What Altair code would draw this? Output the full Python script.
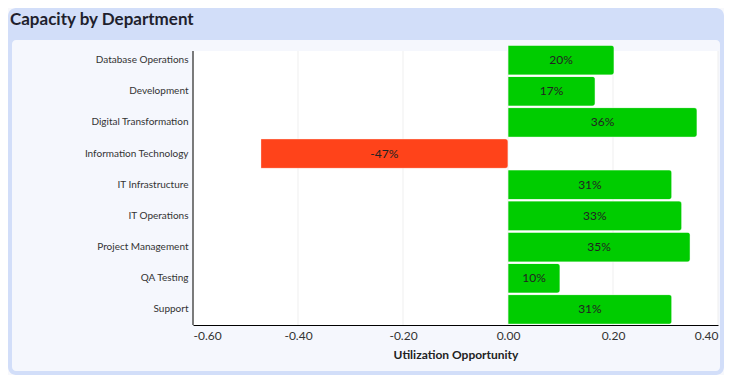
import altair as alt
import pandas as pd

departments = ["Database Operations", "Development", "Digital Transformation",
               "Information Technology", "IT Infrastructure", "IT Operations",
               "Project Management", "QA Testing", "Support"]
utilization = [0.202, 0.166, 0.360, -0.471, 0.312, 0.331, 0.347, 0.099, 0.312]
tick_values = [-0.6, -0.4, -0.2, 0.0, 0.2, 0.4]
chart_title = ["Capacity by Department"]

FONT = "Lato"
W, H = 525, 274
GREEN = "#00cc00"
RED = "#ff431a"

df = pd.DataFrame({"dept": departments, "v": utilization})
ticks_df = pd.DataFrame({"t": tick_values})
one = pd.DataFrame({"k": [0]})
title_df = pd.DataFrame({"title": chart_title})

x_scale = alt.Scale(domain=[-0.6, 0.4], nice=False, zero=False)
y_scale = alt.Scale(domain=departments, range=[-6.5, H], paddingInner=0.05, paddingOuter=0.025)

x_axis = alt.Axis(values=tick_values,
                  labelExpr="(datum.value < 0 ? '-' : '') + format(abs(datum.value), '.2f')",
                  grid=False, ticks=False, domainColor="black", domainWidth=1,
                  labelFont=FONT, labelFontSize=12, labelColor="#333", labelPadding=5,
                  title="Utilization Opportunity", titleFont=FONT, titleFontSize=12,
                  titleFontWeight="bold", titleColor="#222", titlePadding=8, zindex=1)
y_axis = alt.Axis(title=None, ticks=False, grid=False, domain=False,
                  labelFont=FONT, labelFontSize=10, labelColor="#333", labelPadding=5, zindex=1)

card = alt.Chart(one).mark_rect(color="#d2def9", cornerRadius=8).encode(
    x=alt.value(-185), x2=alt.value(531), y=alt.value(-43), y2=alt.value(324))
inner = alt.Chart(one).mark_rect(color="#f5f7fd", cornerRadius=4).encode(
    x=alt.value(-181), x2=alt.value(527), y=alt.value(-11), y2=alt.value(320))
plot_bg = alt.Chart(one).mark_rect(color="white").encode(
    x=alt.value(0), x2=alt.value(W), y=alt.value(0), y2=alt.value(H))

grid = alt.Chart(ticks_df).mark_rule(color="#efefef", strokeWidth=1).encode(
    x=alt.X("t:Q", scale=x_scale, axis=x_axis), y=alt.value(0), y2=alt.value(H))

bars = alt.Chart(df).mark_bar(cornerRadiusEnd=3, stroke="white", strokeOpacity=0.35,
                              strokeWidth=1).encode(
    x=alt.X("v:Q", scale=x_scale, axis=x_axis),
    y=alt.Y("dept:N", scale=y_scale, axis=y_axis, sort=departments),
    color=alt.condition("datum.v < 0", alt.value(RED), alt.value(GREEN)),
)

labels = alt.Chart(df).transform_calculate(
    mid="datum.v / 2",
    lab="(datum.v < 0 ? '-' : '') + format(abs(datum.v) * 100, '.0f') + '%'",
).mark_text(font=FONT, fontSize=12, color="#222").encode(
    x=alt.X("mid:Q", scale=x_scale, axis=x_axis),
    y=alt.Y("dept:N", scale=y_scale, axis=y_axis, sort=departments),
    text="lab:N",
)

y_line = alt.Chart(one).mark_rule(color="black", strokeWidth=1).encode(
    x=alt.value(0), y=alt.value(0), y2=alt.value(H))

title = alt.Chart(title_df).mark_text(font=FONT, fontSize=17, fontWeight="bold", color="#1f1f2e",
                                      align="left", baseline="alphabetic").encode(
    text="title:N", x=alt.value(-183), y=alt.value(-26))

chart = alt.layer(card, inner, plot_bg, grid, bars, labels, y_line, title).properties(
    width=W, height=H, autosize="none",
    padding={"left": 185, "top": 43, "right": 6, "bottom": 50},
    background="#f7f8fc",
).configure_view(stroke=None)

chart.save("out.html", embed_options={"renderer": "svg", "actions": False})
